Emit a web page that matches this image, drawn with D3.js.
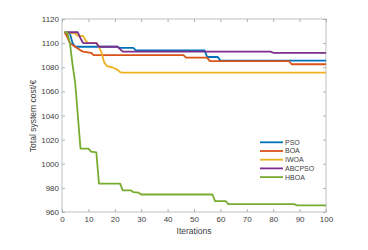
<!DOCTYPE html>
<style>
body { margin: 0; background: #fff; }
text { font-family: "Liberation Sans", Arial, sans-serif; fill: #404040; }
</style>
<svg width="368" height="250"></svg>
<script src="https://d3js.org/d3.v7.min.js"></script>
<script>

// series: [iteration, total cost] vertices
const names = ['PSO', 'BOA', 'IWOA', 'ABCPSO', 'HBOA'];
const colors = ['#0072BD', '#D95319', '#EDB120', '#7E2F8E', '#77AC30'];

const pso = [[1, 1109], [3, 1108], [4, 1100], [5, 1097], [21, 1097], [22, 1096], [27, 1096], [28, 1094], [54, 1094], [55, 1088.5], [59, 1088.5], [60, 1085.5], [100, 1085.5]];
const boa = [[1, 1109], [2, 1105], [3, 1100], [5, 1097], [7, 1094], [8, 1093], [11, 1092], [12, 1090], [46, 1090], [47, 1088], [55, 1088], [56, 1085], [86, 1085], [87, 1082.5], [100, 1082.5]];
const iwoa = [[1, 1109], [5, 1108], [6, 1106], [8, 1106], [9, 1102], [10, 1100], [13, 1100], [14, 1097], [15, 1092], [16, 1084], [17, 1081], [19, 1080], [20, 1079], [21, 1078], [22, 1076], [23, 1075.5], [100, 1075.5]];
const abcpso = [[1, 1109], [6, 1109], [7, 1104], [8, 1100], [13, 1100], [14, 1097], [21, 1097], [22, 1095], [23, 1093], [79, 1093], [80, 1092], [100, 1092]];
const hboa = [[1, 1109], [2, 1109], [3, 1100], [4, 1082], [5, 1067], [6, 1040], [7, 1012.5], [10, 1012.5], [11, 1010], [13, 1009.5], [14, 983.5], [22, 983.5], [23, 978], [26, 978], [27, 976.5], [29, 976], [30, 974.5], [57, 974.5], [58, 969], [62, 969], [63, 966.5], [88, 966.5], [89, 965.5], [100, 965.5]];
const series = [pso, boa, iwoa, abcpso, hboa];

const xTicks = [0, 10, 20, 30, 40, 50, 60, 70, 80, 90, 100];
const yTicks = [960, 980, 1000, 1020, 1040, 1060, 1080, 1100, 1120];

const svg = d3.select('svg');
const mLeft = 62, mRight = 326, mTop = 19, mBottom = 212;

const x = d3.scaleLinear().domain([0, 100]).range([mLeft, mRight]);
const y = d3.scaleLinear().domain([960, 1120]).range([mBottom, mTop]);

const axisColor = '#b0b0b0';
const fmt = d3.format('d');

svg.append('rect')
	.attr('width', 368).attr('height', 250).attr('fill', '#fff');

const styleAxis = (g) => {
	g.select('.domain').remove();
	g.selectAll('.tick line').attr('stroke', axisColor);
	g.selectAll('.tick text').attr('fill', '#505050').attr('font-size', 8)
		.attr('font-family', '"Liberation Sans", Arial, sans-serif');
};

svg.append('g')
	.attr('transform', `translate(0,${mBottom})`)
	.call(d3.axisBottom(x).tickValues(xTicks).tickFormat(fmt).tickSize(-3).tickPadding(4))
	.call(styleAxis);
svg.append('g')
	.attr('transform', `translate(0,${mTop})`)
	.call(d3.axisTop(x).tickValues(xTicks).tickSize(-3).tickFormat(''))
	.call(styleAxis);
svg.append('g')
	.attr('transform', `translate(${mLeft},0)`)
	.call(d3.axisLeft(y).tickValues(yTicks).tickFormat(fmt).tickSize(-3).tickPadding(3))
	.call(styleAxis);
svg.append('g')
	.attr('transform', `translate(${mRight},0)`)
	.call(d3.axisRight(y).tickValues(yTicks).tickSize(-3).tickFormat(''))
	.call(styleAxis);

svg.append('rect')
	.attr('x', mLeft).attr('y', mTop)
	.attr('width', mRight - mLeft).attr('height', mBottom - mTop)
	.attr('fill', 'none').attr('stroke', axisColor).attr('stroke-width', 0.8);

const line = d3.line()
	.x((d) => x(d[0]))
	.y((d) => y(d[1]));

svg.append('g').selectAll('path')
	.data(series)
	.join('path')
	.attr('d', line)
	.attr('fill', 'none')
	.attr('stroke', (d, i) => colors[i])
	.attr('stroke-width', 1.8)
	.attr('stroke-linejoin', 'round');

// legend
const legend = svg.append('g').attr('transform', 'translate(260,142.3)');
const item = legend.selectAll('g')
	.data(names)
	.join('g')
	.attr('transform', (d, i) => `translate(0,${i * 8.7})`);
item.append('line')
	.attr('x1', 0).attr('x2', 23)
	.attr('stroke', (d, i) => colors[i])
	.attr('stroke-width', 1.8);
item.append('text')
	.attr('x', 25).attr('dy', '0.35em')
	.attr('font-size', 7)
	.text((d) => d);

svg.append('text')
	.attr('x', 194).attr('y', 234)
	.attr('text-anchor', 'middle')
	.attr('font-size', 8.5)
	.text('Iterations');

svg.append('text')
	.attr('transform', 'translate(36,116) rotate(-90)')
	.attr('text-anchor', 'middle')
	.attr('font-size', 8.5)
	.text('Total system cost/€');

</script>
